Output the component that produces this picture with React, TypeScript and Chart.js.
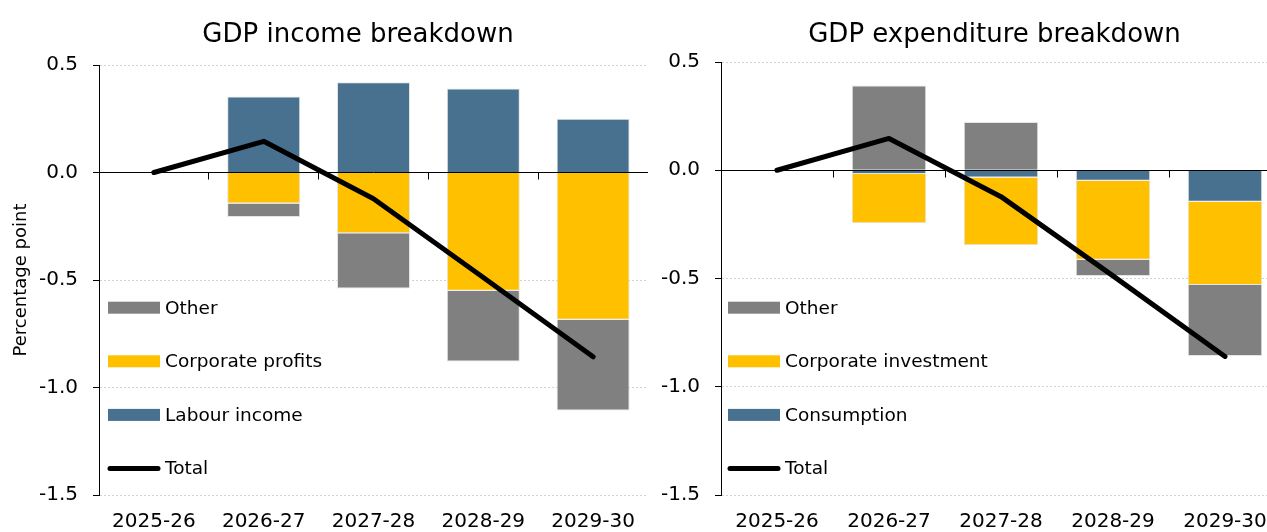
import React, { useEffect, useRef } from "react";
import { Chart, registerables } from "chart.js";

Chart.register(...registerables);

const categories = ["2025-26", "2026-27", "2027-28", "2028-29", "2029-30"];
const yTickValues = [0.5, 0, -0.5, -1.0, -1.5];

// GDP income breakdown (percentage points)
const labourIncome = [0, 0.353, 0.42, 0.391, 0.25];
const corporateProfits = [0, -0.144, -0.282, -0.55, -0.685];
const incomeOther = [0, -0.063, -0.258, -0.329, -0.422];
const incomeTotal = [0, 0.145, -0.122, -0.488, -0.857];

// GDP expenditure breakdown (percentage points)
const consumption = [0, -0.017, -0.034, -0.049, -0.146];
const corporateInvestment = [0, -0.228, -0.312, -0.364, -0.384];
const expenditureOther = [0, 0.391, 0.223, -0.075, -0.328];
const expenditureTotal = [0, 0.147, -0.122, -0.488, -0.86];

const FONT = "'DejaVu Sans', sans-serif";
const BLUE = "#48718f";
const YELLOW = "#ffc000";
const GREY = "#808080";

function barDs(label: string, data: number[], color: string) {
  return {
    type: "bar" as const,
    label,
    data,
    backgroundColor: color,
    borderColor: "#e4e4e4",
    borderWidth: 1,
    barPercentage: 0.665,
    categoryPercentage: 1,
    stack: "bars",
    order: 1,
  };
}

function lineDs(label: string, data: number[]) {
  return {
    type: "line" as const,
    label,
    data,
    borderColor: "#000",
    backgroundColor: "#000",
    borderWidth: 5,
    pointRadius: 0,
    tension: 0,
    fill: false,
    borderCapStyle: "round",
    borderJoinStyle: "round",
    stack: "line",
    order: 0,
  };
}

const align = (p: number) => Math.round(p - 0.5) + 0.5;

function makeDecor(legendOffset: number) {
  return {
    id: "decor",
    afterDatasetsDraw(chart: any) {
      const { ctx, chartArea, scales } = chart;
      const xs = scales.x;
      const ys = scales.y;
      const y0 = align(ys.getPixelForValue(0));
      ctx.save();
      ctx.strokeStyle = "#000";
      ctx.lineWidth = 1;
      ctx.setLineDash([]);
      ctx.beginPath();
      ctx.moveTo(chartArea.left, y0);
      ctx.lineTo(chartArea.right, y0);
      for (let i = 1; i < categories.length; i++) {
        const xb = align((xs.getPixelForValue(i - 1) + xs.getPixelForValue(i)) / 2);
        ctx.moveTo(xb, y0);
        ctx.lineTo(xb, y0 + 7);
      }
      ctx.stroke();
      ctx.restore();
    },
    afterDraw(chart: any) {
      const { ctx, chartArea } = chart;
      // legend inside plot area, bottom-left
      const ds = chart.data.datasets;
      const bars = ds.filter((d: any) => d.type === "bar").reverse();
      const lines = ds.filter((d: any) => d.type === "line");
      const items = [
        ...bars.map((d: any) => ({ label: d.label, color: d.backgroundColor, line: false })),
        ...lines.map((d: any) => ({ label: d.label, color: d.borderColor, line: true })),
      ];
      const n = items.length;
      const bx = chartArea.left + legendOffset;
      ctx.save();
      ctx.font = `18.5px ${FONT}`;
      ctx.textBaseline = "middle";
      ctx.textAlign = "left";
      items.forEach((it, i) => {
        const cy = chartArea.bottom - 26.5 - (n - 1 - i) * 53.6;
        if (it.line) {
          ctx.strokeStyle = it.color;
          ctx.lineWidth = 5;
          ctx.lineCap = "round";
          ctx.beginPath();
          ctx.moveTo(bx + 2, cy);
          ctx.lineTo(bx + 50, cy);
          ctx.stroke();
        } else {
          ctx.fillStyle = it.color;
          ctx.fillRect(bx, cy - 6, 52, 12);
        }
        ctx.fillStyle = "#000";
        ctx.fillText(it.label, bx + 57, cy + 1);
      });
      ctx.restore();
    },
  };
}

interface Spec {
  title: string;
  yTitle?: string;
  datasets: any[];
  yWidth: number;
  rightWidth: number;
  titlePadBottom: number;
  legendOffset: number;
}

function buildConfig(s: Spec): any {
  return {
    type: "bar",
    data: { labels: categories, datasets: s.datasets },
    plugins: [makeDecor(s.legendOffset)],
    options: {
      responsive: false,
      maintainAspectRatio: false,
      animation: false,
      devicePixelRatio: 1,
      layout: { padding: 0 },
      plugins: {
        legend: { display: false },
        tooltip: { enabled: false },
        title: {
          display: true,
          text: s.title,
          color: "#000",
          font: { family: FONT, size: 26, weight: "normal", lineHeight: 1.2 },
          padding: { top: 20, bottom: s.titlePadBottom },
        },
      },
      scales: {
        x: {
          stacked: true,
          grid: { display: false, drawTicks: false },
          border: { display: false },
          ticks: {
            color: "#000",
            font: { family: FONT, size: 20 },
            padding: 15,
            maxRotation: 0,
            autoSkip: false,
          },
          afterFit: (sc: any) => {
            sc.height = 37;
          },
        },
        y: {
          stacked: true,
          position: "left",
          min: -1.5,
          max: 0.5,
          afterBuildTicks: (sc: any) => {
            sc.ticks = yTickValues.map((v) => ({ value: v }));
          },
          afterFit: (sc: any) => {
            sc.width = s.yWidth;
          },
          ticks: {
            color: "#000",
            font: { family: FONT, size: 20 },
            padding: 15,
            callback: (v: any) => Number(v).toFixed(1),
          },
          grid: {
            color: "#d2d2d2",
            lineWidth: 1,
            drawTicks: true,
            tickLength: 6,
            tickColor: "#000",
            tickBorderDash: [],
          },
          border: { display: true, color: "#000", width: 1, dash: [2, 2] },
          title: s.yTitle
            ? {
                display: true,
                text: s.yTitle,
                color: "#000",
                font: { family: FONT, size: 18 },
                padding: { top: 11, bottom: 0 },
              }
            : { display: false },
        },
        yPad: {
          position: "right",
          display: true,
          grid: { display: false, drawTicks: false },
          border: { display: false },
          ticks: { display: false },
          afterFit: (sc: any) => {
            sc.width = s.rightWidth;
          },
        },
      },
    },
  };
}

export default function App() {
  const leftRef = useRef<HTMLCanvasElement>(null);
  const rightRef = useRef<HTMLCanvasElement>(null);

  useEffect(() => {
    const c1 = new Chart(
      leftRef.current as HTMLCanvasElement,
      buildConfig({
        title: "GDP income breakdown",
        yTitle: "Percentage point",
        datasets: [
          barDs("Labour income", labourIncome, BLUE),
          barDs("Corporate profits", corporateProfits, YELLOW),
          barDs("Other", incomeOther, GREY),
          lineDs("Total", incomeTotal),
        ],
        yWidth: 99,
        rightWidth: 68,
        titlePadBottom: 13.8,
        legendOffset: 9,
      })
    );
    const c2 = new Chart(
      rightRef.current as HTMLCanvasElement,
      buildConfig({
        title: "GDP expenditure breakdown",
        datasets: [
          barDs("Consumption", consumption, BLUE),
          barDs("Corporate investment", corporateInvestment, YELLOW),
          barDs("Other", expenditureOther, GREY),
          lineDs("Total", expenditureTotal),
        ],
        yWidth: 71,
        rightWidth: 58,
        titlePadBottom: 10.8,
        legendOffset: 7,
      })
    );
    return () => {
      c1.destroy();
      c2.destroy();
    };
  }, []);

  return (
    <div
      style={{
        position: "absolute",
        left: 0,
        top: 0,
        width: 1267,
        height: 532,
        overflow: "hidden",
        background: "#fff",
      }}
    >
      <canvas
        ref={leftRef}
        width={716}
        height={532}
        style={{ position: "absolute", left: 0, top: 0, width: 716, height: 532 }}
      />
      <canvas
        ref={rightRef}
        width={689}
        height={532}
        style={{ position: "absolute", left: 650, top: 0, width: 689, height: 532 }}
      />
    </div>
  );
}
